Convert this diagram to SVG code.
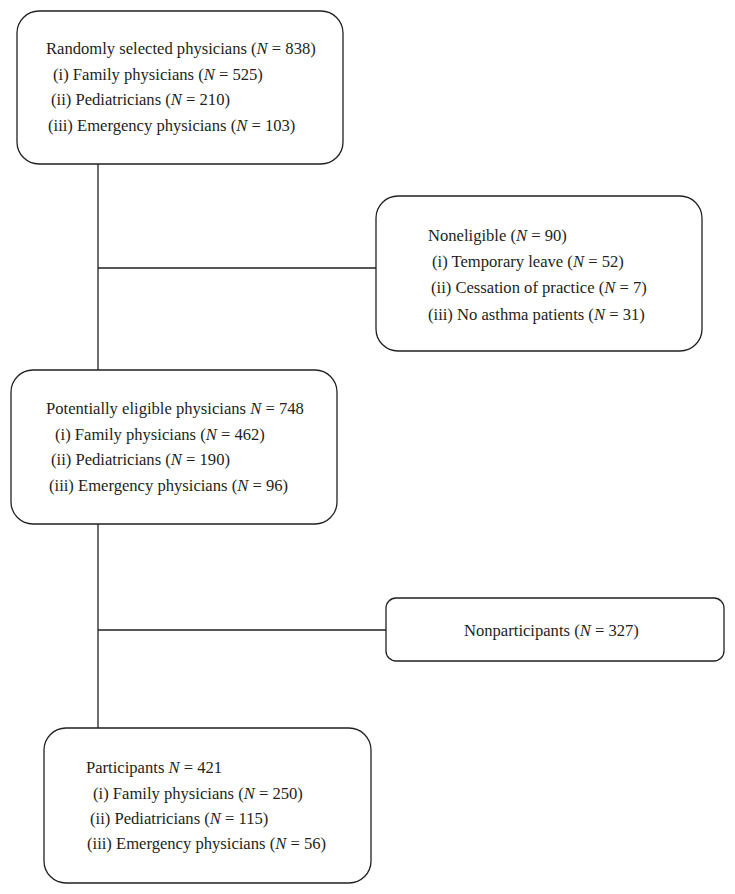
<svg xmlns="http://www.w3.org/2000/svg" width="735" height="894" viewBox="0 0 735 894">
<style>
.box{fill:#fff;stroke:#231f20;stroke-width:1.3}
.ln{stroke:#231f20;stroke-width:1.3;fill:none}
text{font-family:"Liberation Serif","Times New Roman",serif;font-size:16.6px;fill:#231f20}
.i{font-style:italic}
</style>
<rect width="735" height="894" fill="#fff"/>
<g id="connectors">
<path class="ln" d="M98 164V370M98 268H376M98 524V728M98 630H386"/>
</g>
<g id="n1">
<rect class="box" x="17" y="11" width="326" height="153" rx="22"/>
<text x="46" y="54">Randomly selected physicians (<tspan class="i">N</tspan> = 838)</text>
<text x="53" y="80">(i) Family physicians (<tspan class="i">N</tspan> = 525)</text>
<text x="51" y="105">(ii) Pediatricians (<tspan class="i">N</tspan> = 210)</text>
<text x="48" y="131">(iii) Emergency physicians (<tspan class="i">N</tspan> = 103)</text>
</g>
<g id="n2">
<rect class="box" x="376" y="196" width="326" height="155" rx="22"/>
<text x="428" y="241">Noneligible (<tspan class="i">N</tspan> = 90)</text>
<text x="432" y="267">(i) Temporary leave (<tspan class="i">N</tspan> = 52)</text>
<text x="431" y="293">(ii) Cessation of practice (<tspan class="i">N</tspan> = 7)</text>
<text x="428" y="320">(iii) No asthma patients (<tspan class="i">N</tspan> = 31)</text>
</g>
<g id="n3">
<rect class="box" x="11" y="370" width="326" height="154" rx="22"/>
<text x="46" y="414">Potentially eligible physicians <tspan class="i">N</tspan> = 748</text>
<text x="55" y="440">(i) Family physicians (<tspan class="i">N</tspan> = 462)</text>
<text x="51" y="465">(ii) Pediatricians (<tspan class="i">N</tspan> = 190)</text>
<text x="49" y="491">(iii) Emergency physicians (<tspan class="i">N</tspan> = 96)</text>
</g>
<g id="n4">
<rect class="box" x="386" y="598" width="338" height="63" rx="10"/>
<text x="464" y="636">Nonparticipants (<tspan class="i">N</tspan> = 327)</text>
</g>
<g id="n5">
<rect class="box" x="44" y="728" width="327" height="155" rx="22"/>
<text x="86" y="773">Participants <tspan class="i">N</tspan> = 421</text>
<text x="93" y="799">(i) Family physicians (<tspan class="i">N</tspan> = 250)</text>
<text x="90" y="824">(ii) Pediatricians (<tspan class="i">N</tspan> = 115)</text>
<text x="87" y="849">(iii) Emergency physicians (<tspan class="i">N</tspan> = 56)</text>
</g>
</svg>
